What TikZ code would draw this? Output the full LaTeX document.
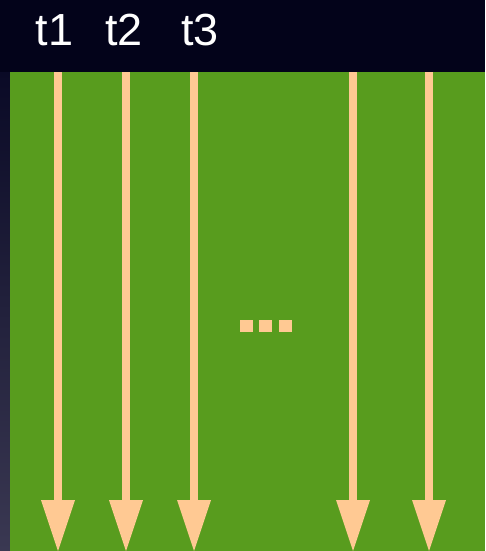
\documentclass[tikz,border=0pt]{standalone}
\usepackage{fontspec}
\setmainfont{Liberation Sans}
\usetikzlibrary{arrows.meta}
\definecolor{bgdark}{HTML}{03031A}
\definecolor{stripbot}{HTML}{3A3852}
\definecolor{stripTop}{HTML}{0A0A26}
\definecolor{grass}{HTML}{589C1E}
\definecolor{peach}{HTML}{FFC993}
\tikzset{
  lbl/.style={text=white, font=\fontsize{45}{45}\selectfont, anchor=base, inner sep=0pt},
  flow/.style={draw=peach, line width=8pt,
    -{Triangle[width=34pt,length=51pt,line width=0pt,fill=peach]}},
  dotsq/.style={fill=peach}
}
\begin{document}
\begin{tikzpicture}[x=1pt,y=-1pt]
\useasboundingbox (0,0) rectangle (485,551);
\fill[bgdark] (0,0) rectangle (485,551);
\shade[top color=stripTop, bottom color=stripbot] (0,72) rectangle (10,551);
\fill[grass] (10,72) rectangle (485,551);
% labels
\node[lbl] (t1) at (54.5,46) {t1};
\node[lbl] (t2) at (124,46) {t2};
\node[lbl] (t3) at (200,46) {t3};
% arrows
\foreach \i/\x in {1/58,2/126,3/194,4/353,5/429}{
  \coordinate (s\i) at (\x,72);
  \coordinate (e\i) at (\x,551);
  \draw[flow] (s\i) -- (e\i);
}
% ellipsis squares
\fill[dotsq] (240,320) rectangle (253,332);
\fill[dotsq] (259,320) rectangle (272,332);
\fill[dotsq] (279,320) rectangle (292,332);
\end{tikzpicture}
\end{document}
